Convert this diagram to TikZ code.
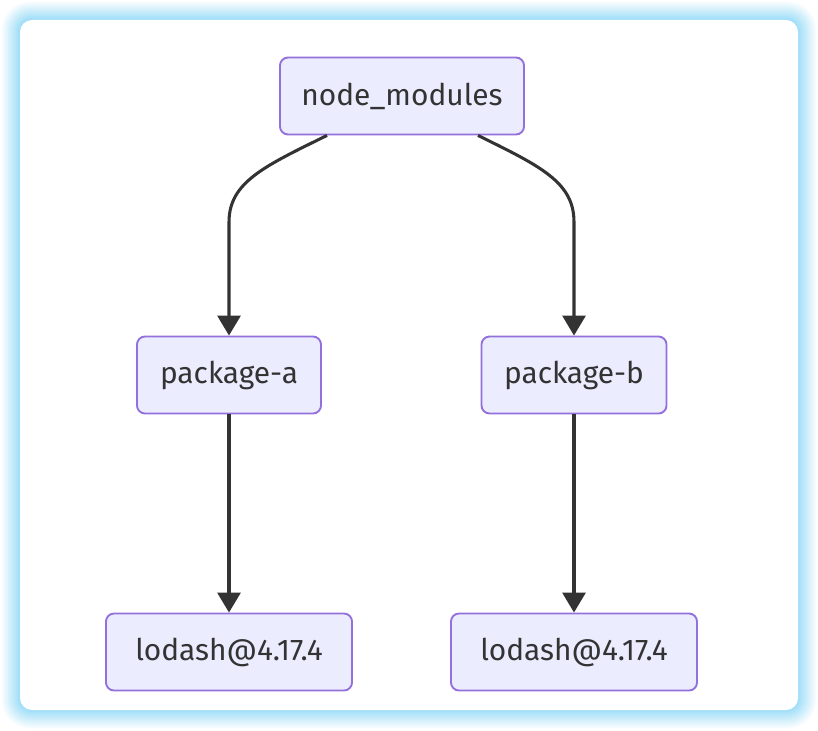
\documentclass[tikz,border=0pt]{standalone}
\usepackage{fontspec}
\setmainfont{Fira Sans}
\usetikzlibrary{arrows.meta}
\definecolor{glow}{HTML}{9ADCF8}
\definecolor{boxfill}{HTML}{ECECFF}
\definecolor{boxline}{HTML}{9370DB}
\definecolor{ink}{HTML}{333333}
\tikzset{
  pkg/.style={draw=boxline, fill=boxfill, line width=1.6pt, rounded corners=0.24cm,
    text=ink, font=\fontsize{25.5}{30}\selectfont, inner sep=0pt, minimum height=2.31cm},
  dep/.style={draw=ink, line width=2.6pt, -{Triangle[width=0.69cm,length=0.6cm]}}
}
\begin{document}
\begin{tikzpicture}[x=0.03cm,y=-0.03cm]
        % card
        \useasboundingbox (0,0) rectangle (818,730);
        \fill [white] (0,0) rectangle (818,730);
        \foreach \i in {0,2,...,20} {
          \pgfmathsetmacro\pct{\i*5}
          \fill [glow!\pct!white, rounded corners=0.9cm-\i*0.027cm] (\i,\i) rectangle (818-\i,730-\i);
        }
        \fill [white, rounded corners=0.36cm] (20,20) rectangle (798,710);
        % boxes
        \node [pkg, minimum width=7.32cm] (top) at (402,96) {node\_modules};
        \node [pkg, minimum width=5.52cm] (pa) at (229,375) {package-a};
        \node [pkg, minimum width=5.55cm] (pb) at (574,375) {package-b};
        \node [pkg, minimum width=7.38cm] (la) at (229,652) {lodash@4.17.4};
        \node [pkg, minimum width=7.38cm] (lb) at (574,652) {lodash@4.17.4};
        % arrows
        \draw [dep] ([xshift=-2.25cm]top.south) .. controls (265,166) and (229,182) .. (pa.north |- 0,222) -- (pa.north);
        \draw [dep] ([xshift=2.28cm]top.south) .. controls (540,166) and (574,182) .. (pb.north |- 0,222) -- (pb.north);
        \draw [dep] (pa) -- (la);
        \draw [dep] (pb) -- (lb);
    \end{tikzpicture}
\end{document}
